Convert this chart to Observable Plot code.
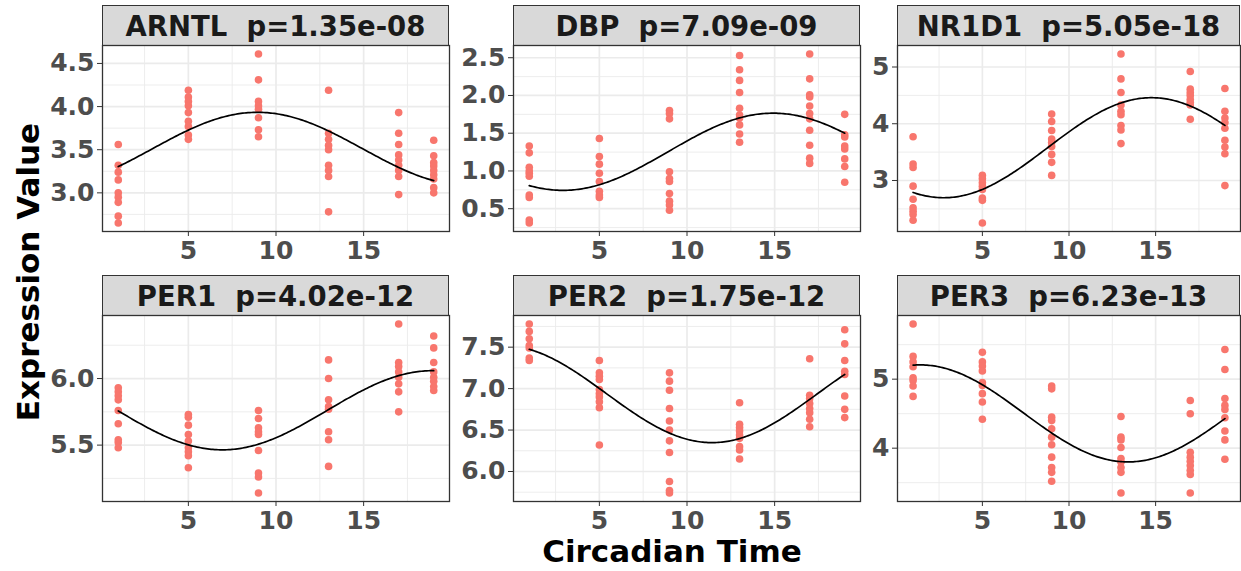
<!DOCTYPE html>
<html><head><meta charset="utf-8">
<script src="https://cdn.jsdelivr.net/npm/d3@7"></script>
<script src="https://cdn.jsdelivr.net/npm/@observablehq/plot@0.6"></script>
<style>
body{margin:0;background:#fff;overflow:hidden;}
#chart{position:relative;width:1241px;height:571px;overflow:hidden;font-family:"DejaVu Sans",sans-serif;background:#fff;}
.strip{position:absolute;box-sizing:border-box;background:#D9D9D9;border:1.3px solid #333;font-weight:bold;font-size:27.5px;color:#1A1A1A;display:flex;align-items:center;justify-content:center;white-space:pre;}
.panel{position:absolute;}
.panel svg{overflow:visible;}
.title{position:absolute;font-weight:bold;font-size:31px;color:#000;white-space:nowrap;line-height:1;}
g[aria-label$="tick label"] text{fill:#4D4D4D;}
</style></head>
<body>
<div id="chart"></div>
<script>
// ---- data ----
const times = [1, 5, 9, 13, 17, 19];
const genes = ["ARNTL", "DBP", "NR1D1", "PER1", "PER2", "PER3"];
const pvalues = ["1.35e-08", "7.09e-09", "5.05e-18", "4.02e-12", "1.75e-12", "6.23e-13"];
const xTicks = [5, 10, 15];

const arntl = [
  [3.56, 3.32, 3.24, 3.15, 3.00, 2.95, 2.89, 2.73, 2.65],
  [4.19, 4.11, 4.06, 4.01, 3.93, 3.83, 3.77, 3.67, 3.62],
  [4.61, 4.31, 4.06, 4.01, 3.97, 3.87, 3.73, 3.65],
  [4.19, 3.69, 3.62, 3.55, 3.50, 3.32, 3.26, 3.19, 2.78],
  [3.93, 3.69, 3.56, 3.44, 3.38, 3.32, 3.26, 3.19, 2.98],
  [3.61, 3.43, 3.35, 3.31, 3.26, 3.21, 3.16, 3.06, 3.00]
];
const dbp = [
  [1.33, 1.24, 1.05, 1.00, 0.97, 0.93, 0.68, 0.65, 0.35, 0.31],
  [1.43, 1.19, 1.09, 0.97, 0.86, 0.73, 0.68, 0.65],
  [1.80, 1.76, 1.69, 0.99, 0.90, 0.86, 0.70, 0.60, 0.55, 0.48],
  [2.53, 2.34, 2.20, 2.04, 1.83, 1.74, 1.70, 1.61, 1.49, 1.38],
  [2.55, 2.22, 2.01, 1.98, 1.86, 1.76, 1.69, 1.54, 1.34, 1.17, 1.10],
  [1.75, 1.48, 1.45, 1.33, 1.29, 1.16, 1.06, 0.85]
];
const nr1d1 = [
  [3.77, 3.29, 3.23, 2.90, 2.67, 2.52, 2.46, 2.40, 2.30],
  [3.09, 3.03, 2.96, 2.90, 2.84, 2.69, 2.65, 2.25],
  [4.17, 4.04, 3.88, 3.73, 3.67, 3.60, 3.46, 3.32, 3.09],
  [5.23, 4.79, 4.55, 4.33, 4.22, 4.16, 3.97, 3.89, 3.65],
  [4.92, 4.61, 4.55, 4.50, 4.43, 4.38, 4.33, 4.08],
  [4.62, 4.22, 4.10, 4.02, 3.92, 3.71, 3.59, 3.47, 2.91]
];
const per1 = [
  [5.93, 5.90, 5.87, 5.84, 5.76, 5.66, 5.54, 5.52, 5.48],
  [5.73, 5.71, 5.65, 5.58, 5.53, 5.48, 5.45, 5.42, 5.33],
  [5.76, 5.70, 5.63, 5.60, 5.58, 5.46, 5.29, 5.26, 5.14],
  [6.14, 6.00, 5.84, 5.79, 5.77, 5.60, 5.54, 5.34],
  [6.41, 6.12, 6.09, 6.05, 6.01, 5.96, 5.90, 5.75],
  [6.32, 6.23, 6.12, 6.05, 6.01, 5.98, 5.94, 5.91]
];
const per2 = [
  [7.78, 7.69, 7.60, 7.52, 7.49, 7.37, 7.34],
  [7.34, 7.19, 7.15, 7.11, 6.99, 6.94, 6.90, 6.84, 6.77, 6.32],
  [7.19, 7.09, 6.98, 6.76, 6.61, 6.50, 6.37, 6.23, 5.88, 5.77, 5.74],
  [6.83, 6.57, 6.53, 6.49, 6.44, 6.40, 6.30, 6.26, 6.15],
  [7.36, 6.92, 6.88, 6.82, 6.76, 6.71, 6.63, 6.54],
  [7.71, 7.54, 7.34, 7.21, 7.17, 6.91, 6.75, 6.65]
];
const per3 = [
  [5.80, 5.33, 5.25, 5.18, 5.02, 4.98, 4.90, 4.75],
  [5.39, 5.25, 5.19, 5.12, 4.95, 4.91, 4.79, 4.67, 4.42],
  [4.90, 4.86, 4.45, 4.40, 4.28, 4.16, 4.05, 3.87, 3.72, 3.65, 3.52],
  [4.46, 4.16, 4.12, 4.01, 3.85, 3.80, 3.72, 3.65, 3.35],
  [4.69, 4.50, 3.94, 3.87, 3.81, 3.75, 3.68, 3.62, 3.35],
  [5.43, 5.14, 4.72, 4.62, 4.56, 4.44, 4.25, 4.12, 3.84]
];
const yTicksARNTL = [3.0, 3.5, 4.0, 4.5];
const yTicksDBP = [0.5, 1.0, 1.5, 2.0, 2.5];
const yTicksNR1D1 = [3, 4, 5];
const yTicksPER1 = [5.5, 6.0];
const yTicksPER2 = [6.0, 6.5, 7.0, 7.5];
const yTicksPER3 = [4, 5];

const geneValues = [arntl, dbp, nr1d1, per1, per2, per3];
const geneTicks = [yTicksARNTL, yTicksDBP, yTicksNR1D1, yTicksPER1, yTicksPER2, yTicksPER3];

// ---- layout ----
const colLeft = [102, 513, 897];
const colWidth = [347, 347, 343];
const stripTop = [5, 275];
const stripH = 40;
const panelTop = [45, 315];
const panelH = 186;
const ML = 70, MB = 45, MR = 1;

// cosinor least-squares fit (24 h period), same model as the reference curve
function cosinorFit(rows) {
  const w = 2 * Math.PI / 24;
  const S = [[0,0,0],[0,0,0],[0,0,0]], b = [0,0,0];
  for (const {t, v} of rows) {
    const r = [1, Math.cos(w * t), Math.sin(w * t)];
    for (let i = 0; i < 3; i++) { b[i] += r[i] * v; for (let j = 0; j < 3; j++) S[i][j] += r[i] * r[j]; }
  }
  const A = S.map((row, i) => [...row, b[i]]);
  for (let i = 0; i < 3; i++) {
    let p = i; for (let k = i + 1; k < 3; k++) if (Math.abs(A[k][i]) > Math.abs(A[p][i])) p = k;
    [A[i], A[p]] = [A[p], A[i]];
    for (let k = i + 1; k < 3; k++) { const f = A[k][i] / A[i][i]; for (let j = i; j < 4; j++) A[k][j] -= f * A[i][j]; }
  }
  const x = [0,0,0];
  for (let i = 2; i >= 0; i--) { let s = A[i][3]; for (let j = i + 1; j < 3; j++) s -= A[i][j] * x[j]; x[i] = s / A[i][i]; }
  return t => x[0] + x[1] * Math.cos(w * t) + x[2] * Math.sin(w * t);
}

function expand(ext) { const d = ext[1] - ext[0]; return [ext[0] - 0.05 * d, ext[1] + 0.05 * d]; }
function minorOf(ticks, dom) {
  const step = ticks[1] - ticks[0];
  const m = ticks.map(t => t - step / 2).concat([ticks[ticks.length - 1] + step / 2]);
  return m.filter(v => v > dom[0] && v < dom[1]);
}

const chart = document.getElementById("chart");
const xDomain = expand(d3.extent(times));
const xMinor = minorOf(xTicks, xDomain);

genes.forEach((gene, gi) => {
  const r = Math.floor(gi / 3), c = gi % 3;
  const rows = [];
  geneValues[gi].forEach((vals, ti) => vals.forEach(v => rows.push({t: times[ti], v})));
  const fit = cosinorFit(rows);
  const curve = d3.range(times[0], times[times.length - 1] + 0.001, 0.1).map(t => ({t, v: fit(t)}));
  const yTicks = geneTicks[gi];
  const yDomain = expand(d3.extent(rows, d => d.v));
  const yMinor = minorOf(yTicks, yDomain);
  const allInt = yTicks.every(v => Number.isInteger(v));
  const fmt = allInt ? d3.format("d") : d3.format(".1f");
  const W = colWidth[c];

  const strip = document.createElement("div");
  strip.className = "strip";
  strip.style.left = colLeft[c] + "px";
  strip.style.top = stripTop[r] + "px";
  strip.style.width = W + "px";
  strip.style.height = (stripH + 1) + "px";
  strip.textContent = gene + "  p=" + pvalues[gi];
  chart.appendChild(strip);

  const plot = Plot.plot({
    width: W + ML + MR,
    height: panelH + MB,
    marginLeft: ML, marginRight: MR, marginTop: 0, marginBottom: MB,
    x: {domain: xDomain, label: null},
    y: {domain: yDomain, label: null},
    style: {fontFamily: "DejaVu Sans", fontSize: "25px", fontWeight: "bold", color: "#4D4D4D", background: "transparent", overflow: "visible"},
    marks: [
      Plot.ruleX(xMinor, {stroke: "#EBEBEB", strokeWidth: 0.9}),
      Plot.ruleY(yMinor, {stroke: "#EBEBEB", strokeWidth: 0.9}),
      Plot.ruleX(xTicks, {stroke: "#EBEBEB", strokeWidth: 1.7}),
      Plot.ruleY(yTicks, {stroke: "#EBEBEB", strokeWidth: 1.7}),
      Plot.dot(rows, {x: "t", y: "v", r: 3.8, fill: "#F8766D", stroke: "none"}),
      Plot.line(curve, {x: "t", y: "v", stroke: "#000", strokeWidth: 1.7}),
      Plot.frame({stroke: "#333", strokeWidth: 1.3}),
      Plot.axisX({ticks: xTicks, tickSize: 5, tickPadding: 5, tickFormat: d3.format("d"), stroke: "#333", fontSize: 25, fontWeight: "bold", label: null}),
      Plot.axisY({ticks: yTicks, tickSize: 5, tickPadding: 3, tickFormat: fmt, stroke: "#333", fontSize: 25, fontWeight: "bold", label: null})
    ]
  });
  const holder = document.createElement("div");
  holder.className = "panel";
  holder.style.left = (colLeft[c] - ML) + "px";
  holder.style.top = panelTop[r] + "px";
  holder.appendChild(plot);
  chart.appendChild(holder);
});

const yt = document.createElement("div");
yt.className = "title";
yt.textContent = "Expression Value";
yt.style.left = "28px"; yt.style.top = "272px";
yt.style.transform = "translate(-50%,-50%) rotate(-90deg)";
chart.appendChild(yt);

const xt = document.createElement("div");
xt.className = "title";
xt.textContent = "Circadian Time";
xt.style.left = "672px"; xt.style.top = "551px";
xt.style.transform = "translate(-50%,-50%)";
chart.appendChild(xt);
</script>
</body></html>
